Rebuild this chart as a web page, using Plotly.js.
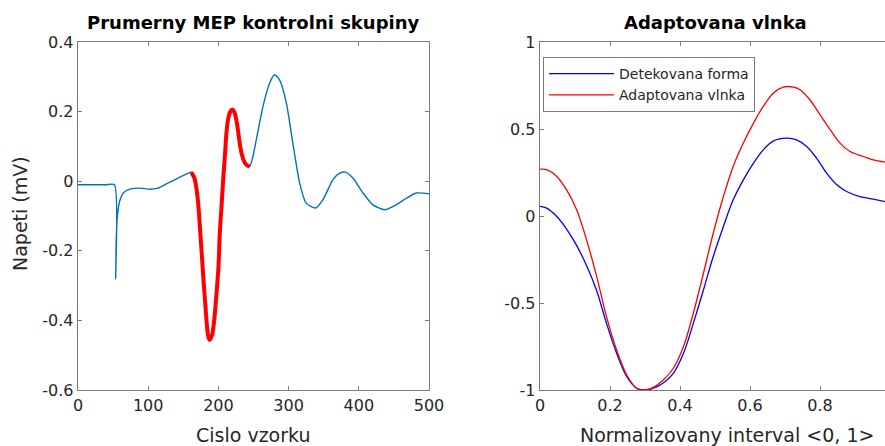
<!DOCTYPE html>
<html>
<head>
<meta charset="utf-8">
<script src="https://cdn.plot.ly/plotly-3.0.1.min.js"></script>
<style>html,body{margin:0;padding:0;background:#fff;}#chart{width:885px;height:446px;}</style>
</head>
<body>
<div id="chart"></div>
<script>
// Left panel: average MEP of control group
const mepSamples = [0, 20, 40, 52, 53.6, 54.6, 56, 59.8, 64.5, 74, 88, 102.5, 114, 126, 140.5, 152, 161.5,
  166, 169, 171.5, 173.6, 176, 178.4, 181, 183, 185, 187.3, 189.5, 191.7, 194.5, 197.4, 200, 202, 204.5, 207, 209.5, 211.5, 214, 217, 220, 222.5, 225.5, 228, 230.3, 233, 236, 239.8, 244.5,
  249, 254, 263.5, 273, 280, 287, 296.8, 306, 315.7, 325, 338.5, 349, 363, 372.7, 381, 391.7, 406, 420, 437, 453, 467.7, 482, 500];
const mepValues = [-0.010, -0.010, -0.010, -0.010, -0.281, -0.16, -0.102, -0.054, -0.034, -0.023, -0.020, -0.023, -0.020, -0.008, 0.007, 0.018, 0.026,
  0.008, -0.025, -0.07, -0.13, -0.2, -0.274, -0.345, -0.399, -0.44, -0.456, -0.45, -0.436, -0.39, -0.321, -0.25, -0.15, -0.07, 0.01, 0.08, 0.14, 0.18, 0.2, 0.206, 0.2, 0.177, 0.145, 0.11, 0.08, 0.06, 0.047, 0.042,
  0.07, 0.119, 0.215, 0.282, 0.306, 0.292, 0.225, 0.11, -0.005, -0.063, -0.077, -0.053, 0.004, 0.023, 0.026, 0.009, -0.034, -0.068, -0.082, -0.068, -0.049, -0.034, -0.036];
const waveSamples = [161.5, 166, 169, 171.5, 173.6, 176, 178.4, 181, 183, 185, 187.3, 189.5, 191.7, 194.5, 197.4, 200, 202, 204.5, 207, 209.5, 211.5, 214, 217, 220, 222.5, 225.5, 228, 230.3, 233, 236, 239.8, 244.5];
const waveValues = [0.026, 0.008, -0.025, -0.07, -0.13, -0.2, -0.274, -0.345, -0.399, -0.44, -0.456, -0.45, -0.436, -0.39, -0.321, -0.25, -0.15, -0.07, 0.01, 0.08, 0.14, 0.18, 0.2, 0.206, 0.2, 0.177, 0.145, 0.11, 0.08, 0.06, 0.047, 0.042];

// Right panel: detected form vs adapted wavelet on normalized interval
const normX = [0, 0.019, 0.048, 0.076, 0.105, 0.133, 0.162, 0.19, 0.219, 0.248, 0.276, 0.3, 0.324, 0.352, 0.381, 0.41, 0.438, 0.467, 0.495, 0.524, 0.552, 0.581, 0.61, 0.638, 0.667, 0.705, 0.733, 0.762, 0.79, 0.819, 0.848, 0.876, 0.914, 0.952, 0.986];
const detekovana = [0.055, 0.045, -0.003, -0.075, -0.17, -0.285, -0.43, -0.617, -0.789, -0.924, -0.99, -1.0, -0.99, -0.96, -0.904, -0.789, -0.617, -0.425, -0.233, -0.06, 0.093, 0.208, 0.304, 0.38, 0.432, 0.448, 0.438, 0.4, 0.333, 0.246, 0.179, 0.141, 0.112, 0.097, 0.083];
const normX2 = [0, 0.019, 0.048, 0.076, 0.105, 0.133, 0.162, 0.19, 0.219, 0.248, 0.276, 0.3, 0.324, 0.352, 0.381, 0.41, 0.438, 0.467, 0.495, 0.524, 0.552, 0.581, 0.61, 0.638, 0.667, 0.695, 0.724, 0.743, 0.771, 0.8, 0.829, 0.857, 0.886, 0.924, 0.952, 0.986];
const adaptovana = [0.269, 0.266, 0.227, 0.15, 0.035, -0.137, -0.348, -0.578, -0.77, -0.914, -0.99, -1.0, -0.985, -0.943, -0.875, -0.75, -0.559, -0.329, -0.099, 0.112, 0.285, 0.419, 0.534, 0.63, 0.707, 0.741, 0.741, 0.726, 0.668, 0.582, 0.496, 0.419, 0.371, 0.342, 0.323, 0.31];

const leftYTicks = [-0.6, -0.4, -0.2, 0, 0.2, 0.4];
const leftYText = ['-0.6', '-0.4', '-0.2', '0', '0.2', '0.4'];
const leftXTicks = [0, 100, 200, 300, 400, 500];
const rightYTicks = [-1, -0.5, 0, 0.5, 1];
const rightYText = ['-1', '-0.5', '0', '0.5', '1'];
const rightXTicks = [0, 0.2, 0.4, 0.6, 0.8, 1];
const rightXText = ['0', '0.2', '0.4', '0.6', '0.8', '1'];

const W = 885, H = 446;
const FAM = 'DejaVu Sans, Verdana, sans-serif';
const fontTick = {family: FAM, size: 16, color: '#262626'};
const axisCommon = {
  showgrid: false, zeroline: false, showline: true, linecolor: '#7a7a7a', linewidth: 1.3,
  ticks: 'inside', ticklen: 4, tickcolor: '#7a7a7a', tickwidth: 1, tickfont: fontTick, fixedrange: true
};

const traces = [
  {x: mepSamples, y: mepValues, xaxis: 'x', yaxis: 'y', mode: 'lines', line: {color: '#0072BD', width: 1.4, shape: 'spline', smoothing: 0.6}, showlegend: false},
  {x: waveSamples, y: waveValues, xaxis: 'x', yaxis: 'y', mode: 'lines', line: {color: '#FF0000', width: 4, shape: 'spline', smoothing: 0.8}, showlegend: false},
  {x: normX, y: detekovana, xaxis: 'x2', yaxis: 'y2', mode: 'lines', name: 'Detekovana forma', line: {color: '#0000FF', width: 1.3, shape: 'spline'}},
  {x: normX2, y: adaptovana, xaxis: 'x2', yaxis: 'y2', mode: 'lines', name: 'Adaptovana vlnka', line: {color: '#FF0000', width: 1.3, shape: 'spline'}}
];

const yDom = [(H - 390) / H, (H - 42) / H];
const layout = {
  width: W, height: H,
  margin: {l: 0, r: 0, t: 0, b: 0},
  paper_bgcolor: '#ffffff', plot_bgcolor: '#ffffff',
  xaxis: Object.assign({}, axisCommon, {domain: [78 / W, 429 / W], range: [0, 500], tickvals: leftXTicks, ticktext: leftXTicks.map(String), mirror: 'ticks', anchor: 'y'}),
  yaxis: Object.assign({}, axisCommon, {domain: yDom, range: [-0.6, 0.4], tickvals: leftYTicks, ticktext: leftYText, mirror: 'ticks', anchor: 'x'}),
  xaxis2: Object.assign({}, axisCommon, {domain: [540 / W, 1], range: [0, 345 / 350], tickvals: rightXTicks, ticktext: rightXText, mirror: 'ticks', anchor: 'y2'}),
  yaxis2: Object.assign({}, axisCommon, {domain: yDom, range: [-1, 1], tickvals: rightYTicks, ticktext: rightYText, mirror: false, anchor: 'x2'}),
  legend: {
    x: 543 / W, y: (H - 57) / H, xanchor: 'left', yanchor: 'top',
    bgcolor: '#ffffff', bordercolor: '#7a7a7a', borderwidth: 1,
    font: {family: FAM, size: 14, color: '#262626'},
    tracegroupgap: 0, itemwidth: 65
  },
  annotations: [
    {text: '<b>Prumerny MEP kontrolni skupiny</b>', xref: 'paper', yref: 'paper', x: 253.5 / W, y: (H - 22) / H, xanchor: 'center', yanchor: 'middle', showarrow: false, font: {family: FAM, size: 18, color: '#000'}},
    {text: '<b>Adaptovana vlnka</b>', xref: 'paper', yref: 'paper', x: 715 / W, y: (H - 22) / H, xanchor: 'center', yanchor: 'middle', showarrow: false, font: {family: FAM, size: 18, color: '#000'}},
    {text: 'Cislo vzorku', xref: 'paper', yref: 'paper', x: 253.5 / W, y: (H - 435) / H, xanchor: 'center', yanchor: 'middle', showarrow: false, font: {family: FAM, size: 19, color: '#262626'}},
    {text: 'Normalizovany interval &lt;0, 1&gt;', xref: 'paper', yref: 'paper', x: 727 / W, y: (H - 435) / H, xanchor: 'center', yanchor: 'middle', showarrow: false, font: {family: FAM, size: 19, color: '#262626'}},
    {text: 'Napeti (mV)', xref: 'paper', yref: 'paper', x: 20 / W, y: (H - 214) / H, xanchor: 'center', yanchor: 'middle', textangle: -90, showarrow: false, font: {family: FAM, size: 19, color: '#262626'}}
  ]
};

Plotly.newPlot('chart', traces, layout, {displayModeBar: false, staticPlot: true});
</script>
</body>
</html>
